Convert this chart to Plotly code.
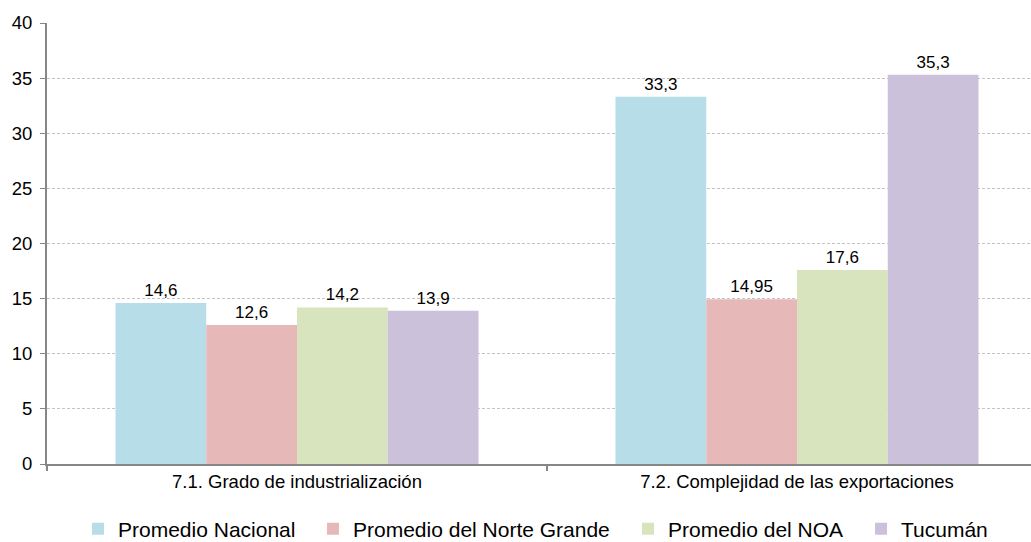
import plotly.graph_objects as go

categories = ["7.1. Grado de industrialización", "7.2. Complejidad de las exportaciones"]
series_names = ["Promedio Nacional", "Promedio del Norte Grande", "Promedio del NOA", "Tucumán"]
promedio_nacional = [14.6, 33.3]
promedio_norte_grande = [12.6, 14.95]
promedio_noa = [14.2, 17.6]
tucuman = [13.9, 35.3]
colors = ["#B7DDE8", "#E6B9B8", "#D7E4BD", "#CCC1DA"]
y_ticks = [0, 5, 10, 15, 20, 25, 30, 35, 40]

series_values = [promedio_nacional, promedio_norte_grande, promedio_noa, tucuman]

# legend entry left edges (container pixels)
legend_x_px = [78, 313, 628, 861]
legend_ids = ["legend", "legend2", "legend3", "legend4"]

W, H = 1031, 542

fig = go.Figure()
for name, vals, col, lid in zip(series_names, series_values, colors, legend_ids):
    fig.add_trace(go.Bar(
        x=categories, y=vals, name=name,
        marker=dict(color=col, line=dict(width=0)),
        text=[f"{v:g}".replace(".", ",") for v in vals],
        textposition="outside",
        textfont=dict(family="Liberation Sans, Arial", size=17, color="#000000"),
        cliponaxis=False,
        legend=lid,
    ))

legend_common = dict(
    orientation="h", xref="container", yref="container",
    xanchor="left", y=1 - 529 / H, yanchor="middle",
    font=dict(size=21), bgcolor="rgba(0,0,0,0)",
)

fig.update_layout(
    width=W, height=H,
    margin=dict(l=47, r=0, t=23, b=78, autoexpand=False),
    plot_bgcolor="white", paper_bgcolor="white",
    barmode="group", bargap=0.274, bargroupgap=0,
    font=dict(family="Liberation Sans, Arial", color="#000000"),
    showlegend=True,
)
for lid, xp in zip(legend_ids, legend_x_px):
    fig.update_layout({lid: dict(legend_common, x=xp / W)})

fig.update_xaxes(
    range=[-0.5, 1.468], showline=True, linecolor="#868686", linewidth=2,
    ticks="outside", tickson="boundaries", ticklen=5, tickcolor="#868686", tickwidth=2,
    tickfont=dict(size=18.5), showgrid=False, automargin=False,
)
fig.update_yaxes(
    range=[0, 40], tickvals=y_ticks, showline=True, linecolor="#868686", linewidth=2,
    ticks="outside", ticklen=5, tickcolor="#868686", tickwidth=1,
    tickfont=dict(size=18.5), ticklabelstandoff=4, showgrid=True, gridcolor="#C4C4C4",
    griddash="3px,2px", gridwidth=1, zeroline=False, automargin=False,
)

fig.write_html("out.html")
